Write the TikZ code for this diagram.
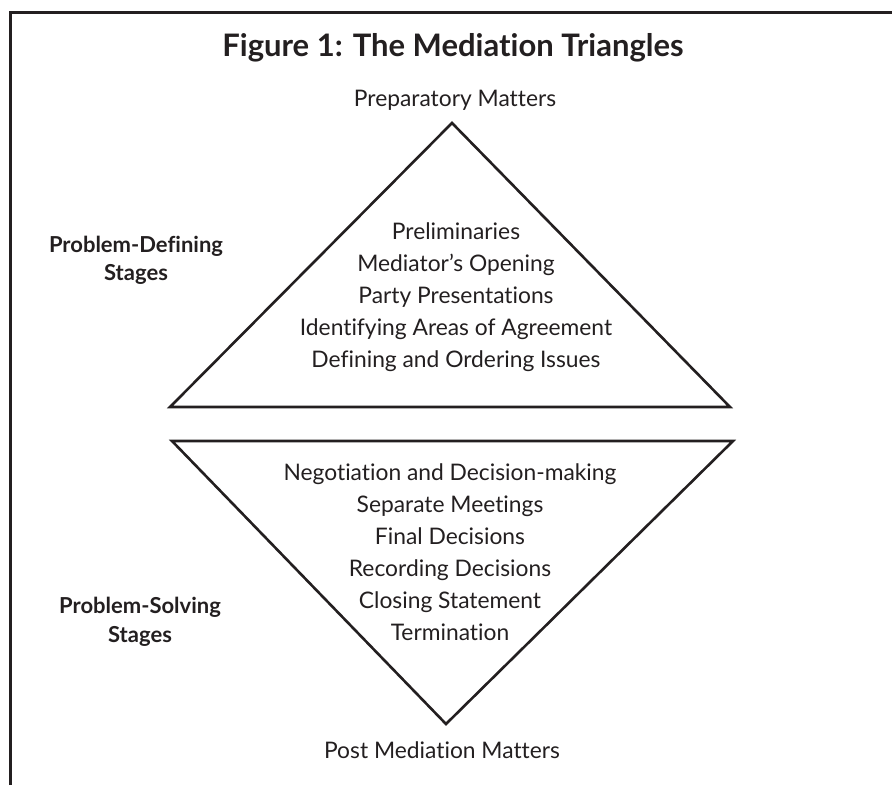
\documentclass[tikz,border=0pt]{standalone}
\usepackage{fontspec}
\setmainfont[Ligatures=NoCommon]{Lato}
\definecolor{ink}{HTML}{231F20}
\begin{document}
\begin{tikzpicture}[x=1pt,y=-1pt,
  tri/.style={draw=ink,line width=2.6pt,line join=miter},
  frame/.style={draw=ink,line width=3pt},
  item/.style={anchor=base,inner sep=0pt,text=ink,font=\fontsize{22.8}{27}\selectfont},
  lab/.style={anchor=base,inner sep=0pt,text=ink,font=\bfseries\fontsize{22}{26}\selectfont},
  ttl/.style={anchor=base,inner sep=0pt,text=ink,font=\bfseries\fontsize{31}{36}\selectfont}]
\useasboundingbox (0,0) rectangle (892,785);
\draw[frame] (10,785) -- (10,12) -- (892,12);
\node[ttl] (title) at (453,56) {Figure 1: The Mediation Triangles};
\node[item] (prep) at (455,106) {Preparatory Matters};
\node[item] (post) at (442,758) {Post Mediation Matters};
% upper triangle
\coordinate (ua) at (452,123);
\coordinate (ul) at (170,407);
\coordinate (ur) at (730,407);
\draw[tri] (ua) -- (ul) -- (ur) -- cycle;
% lower triangle
\coordinate (ll) at (172,441);
\coordinate (lr) at (733,441);
\coordinate (lb) at (446,724);
\draw[tri] (ll) -- (lr) -- (lb) -- cycle;
\foreach \t [count=\i] in {Preliminaries,Mediator’s Opening,Party Presentations,Identifying Areas of Agreement,Defining and Ordering Issues}
  \node[item] (u\i) at (456,{239+32*(\i-1)}) {\t};
\foreach \t [count=\i] in {Negotiation and Decision-making,Separate Meetings,Final Decisions,Recording Decisions,Closing Statement,Termination}
  \node[item] (d\i) at (450,{480+32*(\i-1)}) {\t};
\node[lab] (pd1) at (136,252) {Problem-Defining};
\node[lab] (pd2) at (136,280) {Stages};
\node[lab] (ps1) at (140,613) {Problem-Solving};
\node[lab] (ps2) at (140,642) {Stages};
\end{tikzpicture}
\end{document}
